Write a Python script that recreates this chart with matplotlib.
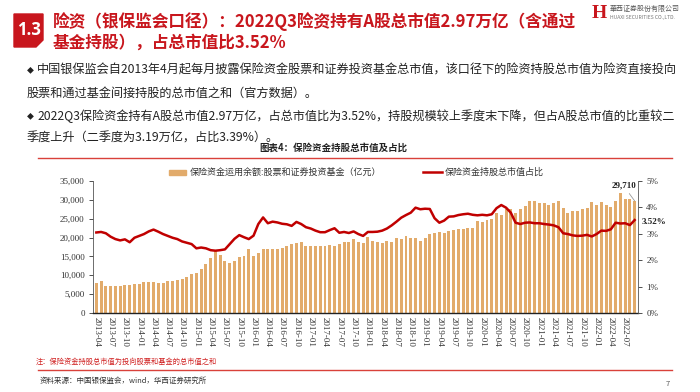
import matplotlib
matplotlib.use('Agg')
import pandas as pd
import matplotlib.pyplot as plt
from matplotlib.patches import Rectangle, Polygon
from matplotlib.lines import Line2D
from matplotlib.ticker import FuncFormatter

plt.rcParams['font.family'] = ['Noto Sans CJK SC', 'DejaVu Sans']

# ============================================================
# Data
# ============================================================
months = pd.period_range('2013-04', '2022-09', freq='M').strftime('%Y-%m').tolist()

# 保险资金运用余额:股票和证券投资基金（亿元）
holdings = [
    7900, 8600, 7100, 7100, 7200, 7250, 7350, 7350, 7750, 7800,
    8150, 8300, 8150, 8050, 7950, 8400, 8500, 8750, 9000, 9550,
    10250, 10650, 11650, 12900, 14500, 16450, 15350, 13850, 13250, 13850,
    14750, 15100, 16950, 15200, 15800, 16850, 16850, 16900, 16950, 17300,
    17650, 18200, 18450, 18900, 17750, 17750, 17850, 17850, 17850, 17950,
    17850, 18300, 18800, 18800, 19700, 18900, 18450, 20050, 19150, 18900,
    18650, 19150, 18800, 19800, 19500, 20400, 19950, 19800, 19150, 19850,
    20950, 21100, 21400, 21200, 21800, 22000, 22250, 22350, 22450, 22550,
    24400, 24100, 24750, 24900, 26400, 26050, 27450, 27550, 26600, 27450,
    28350, 29750, 29600, 29250, 29100, 28750, 29050, 29600, 27750, 26600,
    27100, 27150, 27550, 27900, 29400, 28750, 29450, 28600, 28000, 29700,
    31900, 30200, 30150, 29710,
]

# 保险资金持股总市值占比（%）
share_pct = [
    3.05, 3.07, 3.02, 2.89, 2.80, 2.75, 2.79, 2.68, 2.85, 2.92,
    2.99, 3.09, 3.16, 3.08, 2.99, 2.92, 2.85, 2.80, 2.71, 2.66,
    2.61, 2.45, 2.48, 2.45, 2.38, 2.36, 2.38, 2.41, 2.61, 2.81,
    2.95, 2.87, 2.80, 2.93, 3.37, 3.62, 3.40, 3.46, 3.43, 3.38,
    3.36, 3.30, 3.45, 3.37, 3.25, 3.20, 3.12, 3.06, 3.06, 3.14,
    3.21, 3.04, 3.07, 3.03, 3.09, 2.99, 2.92, 3.07, 3.07, 3.08,
    3.12, 3.20, 3.32, 3.46, 3.61, 3.71, 3.80, 3.99, 3.93, 3.95,
    3.94, 3.59, 3.42, 3.50, 3.65, 3.66, 3.71, 3.74, 3.76, 3.72,
    3.70, 3.72, 3.70, 3.74, 3.97, 4.09, 3.99, 3.80, 3.42, 3.37,
    3.42, 3.43, 3.40, 3.40, 3.37, 3.35, 3.32, 3.25, 3.02, 2.99,
    2.94, 2.92, 2.93, 2.96, 2.90, 2.99, 3.12, 3.11, 3.17, 3.42,
    3.39, 3.40, 3.33, 3.52,
]

left_ticks = [0, 5000, 10000, 15000, 20000, 25000, 30000, 35000]
right_ticks = [0, 1, 2, 3, 4, 5]

bar_color = '#E2AB6B'
line_color = '#C00000'
red = '#C8161D'
serif = 'Liberation Serif'

# ============================================================
# helpers: pixel position -> figure fraction
# ============================================================
W, H = 700, 392


def fx(px):
    return px / W


def fy(py):
    return 1 - py / H


fig = plt.figure(figsize=(7, 3.92), dpi=100)
fig.patch.set_facecolor('white')

# ---- header block
badge = Polygon([(fx(14), fy(14)), (fx(43), fy(14)), (fx(43), fy(40)),
                 (fx(36), fy(47)), (fx(14), fy(47))],
                closed=True, transform=fig.transFigure, color=red)
fig.add_artist(badge)
fig.text(fx(28.5), fy(30), '1.3', color='white', fontsize=12, fontweight='bold',
         ha='center', va='center', family='Open Sans')
fig.text(fx(53), fy(22), '险资（银保监会口径）：2022Q3险资持有A股总市值2.97万亿（含通过',
         color=red, fontsize=12, fontweight='bold', ha='left', va='center')
fig.text(fx(53), fy(43), '基金持股），占总市值比3.52%',
         color=red, fontsize=12, fontweight='bold', ha='left', va='center')

# ---- logo
fig.text(fx(599), fy(13), 'H', color=red, fontsize=14, fontweight='bold',
         ha='center', va='center', family='Liberation Serif')
fig.text(fx(610), fy(9), '華西证券股份有限公司', color='#555555', fontsize=5,
         ha='left', va='center')
fig.text(fx(610), fy(18), 'HUAXI SECURITIES CO.,LTD.', color='#777777', fontsize=3.6,
         ha='left', va='center')

# ---- bullet text
body = '#222222'
fig.text(fx(30), fy(70), '◆', color=body, fontsize=5, ha='center', va='center')
fig.text(fx(37), fy(70), '中国银保监会自2013年4月起每月披露保险资金股票和证券投资基金总市值，该口径下的险资持股总市值为险资直接投向',
         color=body, fontsize=8.75, ha='left', va='center')
fig.text(fx(27), fy(93), '股票和通过基金间接持股的总市值之和（官方数据）。',
         color=body, fontsize=8.75, ha='left', va='center')
fig.text(fx(30), fy(116), '◆', color=body, fontsize=5, ha='center', va='center')
fig.text(fx(37), fy(116), '2022Q3保险资金持有A股总市值2.97万亿，占总市值比为3.52%，持股规模较上季度末下降，但占A股总市值的比重较二',
         color=body, fontsize=8.75, ha='left', va='center')
fig.text(fx(27), fy(138), '季度上升（二季度为3.19万亿，占比3.39%）。',
         color=body, fontsize=8.75, ha='left', va='center')

# ---- chart caption
fig.text(fx(333), fy(148), '图表4：保险资金持股总市值及占比', color='#222222', fontsize=6.8,
         fontweight='bold', ha='center', va='center')
fig.add_artist(Line2D([fx(38), fx(672)], [fy(158), fy(158)], transform=fig.transFigure,
                      color='#D9413A', lw=1.0))

# ---- main axes
ax = fig.add_axes([fx(93), fy(313), fx(638) - fx(93), fy(181) - fy(313)])
x = list(range(len(months)))
ax.bar(x, holdings, width=0.62, color=bar_color, zorder=2)
ax.set_xlim(-0.7, len(months) - 0.3)
ax.set_ylim(0, 35000)
ax.set_yticks(left_ticks)
ax.yaxis.set_major_formatter(FuncFormatter(lambda v, p: f'{v:,.0f}'))
ax.set_xticks(x[::3])
ax.set_xticklabels(months[::3], rotation=270, family=serif, fontsize=6.5, color='#333333')
ax.tick_params(axis='x', length=0, pad=3)
ax.tick_params(axis='y', direction='out', length=3, width=0.6, pad=3, colors='#333333',
               labelsize=6.5)
for lab in ax.get_yticklabels():
    lab.set_family(serif)
ax.spines['top'].set_visible(False)
ax.spines['right'].set_visible(False)
ax.spines['left'].set_color('#555555')
ax.spines['left'].set_linewidth(0.6)
ax.spines['bottom'].set_color('#222222')
ax.spines['bottom'].set_linewidth(1.0)

ax2 = ax.twinx()
ax2.plot(x, share_pct, color=line_color, lw=1.8, zorder=3)
ax2.set_ylim(0, 5)
ax2.set_yticks(right_ticks)
ax2.yaxis.set_major_formatter(FuncFormatter(lambda v, p: f'{v:.0f}%'))
ax2.tick_params(axis='y', direction='out', length=3, width=0.6, pad=3, colors='#333333',
                labelsize=6.5)
for lab in ax2.get_yticklabels():
    lab.set_family(serif)
for s in ['top', 'left', 'bottom']:
    ax2.spines[s].set_visible(False)
ax2.spines['right'].set_color('#555555')
ax2.spines['right'].set_linewidth(0.6)

# ---- annotations on the last point
ax.annotate(f'{holdings[-1]:,}', xy=(x[-1], holdings[-1]), xytext=(-8, 11),
            textcoords='offset points', ha='center', va='center', fontsize=6.5,
            fontweight='bold', family=serif, color='#222222', annotation_clip=False,
            arrowprops=dict(arrowstyle='-', color='#999999', lw=0.6, shrinkA=1, shrinkB=0))
ax2.annotate(f'{share_pct[-1]:.2f}%', xy=(x[-1], share_pct[-1]), xytext=(14, -1.5),
             textcoords='offset points', ha='center', va='center', fontsize=6.5,
             fontweight='bold', family=serif, color='#222222', annotation_clip=False)

# ---- legend
fig.add_artist(Rectangle((fx(169), fy(174.5)), fx(17), 5 / H, transform=fig.transFigure,
                         color=bar_color))
fig.text(fx(190), fy(172), '保险资金运用余额:股票和证券投资基金（亿元）', color='#333333',
         fontsize=6.5, ha='left', va='center')
fig.add_artist(Line2D([fx(423), fx(442)], [fy(172), fy(172)], transform=fig.transFigure,
                      color=line_color, lw=1.8))
fig.text(fx(445), fy(172), '保险资金持股总市值占比', color='#333333',
         fontsize=6.5, ha='left', va='center')

# ---- notes and source
fig.text(fx(36), fy(362), '注：保险资金持股总市值为投向股票和基金的总市值之和', color='#D02020',
         fontsize=5.2, style='italic', ha='left', va='center')
fig.add_artist(Line2D([fx(38), fx(672)], [fy(370), fy(370)], transform=fig.transFigure,
                      color='#D9413A', lw=1.0))
fig.text(fx(40), fy(381), '资料来源：中国银保监会，wind，华西证券研究所', color='#333333',
         fontsize=5.4, ha='left', va='center')
fig.text(fx(668), fy(384), '7', color='#555555', fontsize=5.5, ha='center', va='center')

fig.savefig('out.png', dpi=100, facecolor='white')
